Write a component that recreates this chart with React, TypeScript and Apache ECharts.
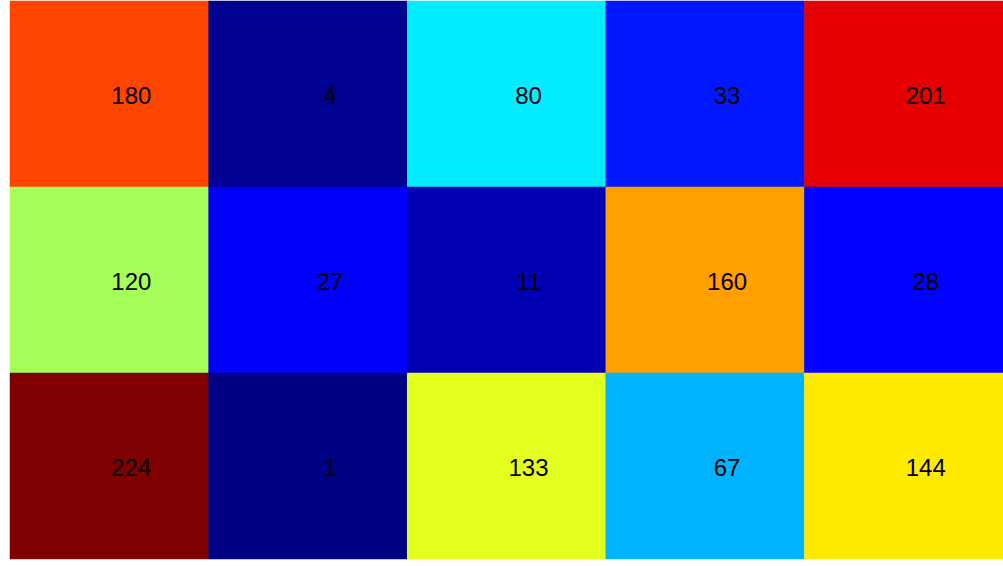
import React, { useEffect, useRef } from "react";
import * as echarts from "echarts";

const columns = ["C1", "C2", "C3", "C4", "C5"];
const rows = ["R1", "R2", "R3"];
const rowValues = [
  [180, 4, 80, 33, 201],
  [120, 27, 11, 160, 28],
  [224, 1, 133, 67, 144],
];
const jetColors = ["#00007f", "#0000ff", "#007fff", "#00ffff", "#7fff7f", "#ffff00", "#ff7f00", "#ff0000", "#7f0000"];
const colorMin = 0;
const colorMax = 223;

export default function App() {
  const ref = useRef<HTMLDivElement>(null);
  useEffect(() => {
    const chart = echarts.init(ref.current!, null, { renderer: "svg" });
    const data: number[][] = [];
    rowValues.forEach((r, ri) => r.forEach((v, ci) => data.push([ci, ri, v])));
    chart.setOption({
      animation: false,
      grid: { left: 10, right: 0, top: 1, bottom: 7 },
      xAxis: { type: "category", data: columns, show: false },
      yAxis: { type: "category", data: rows, inverse: true, show: false },
      visualMap: {
        show: false,
        min: colorMin,
        max: colorMax,
        calculable: false,
        inRange: { color: jetColors },
      },
      series: [
        {
          type: "heatmap",
          data,
          label: {
            show: true,
            color: "#000",
            fontSize: 24,
            fontFamily: "Liberation Sans, Arial, sans-serif",
            offset: [22, 1],
          },
          itemStyle: { borderWidth: 0 },
          emphasis: { disabled: true },
        },
      ],
    });
    return () => chart.dispose();
  }, []);
  return <div ref={ref} style={{ position: "absolute", left: 0, top: 0, width: 1003, height: 566 }} />;
}
